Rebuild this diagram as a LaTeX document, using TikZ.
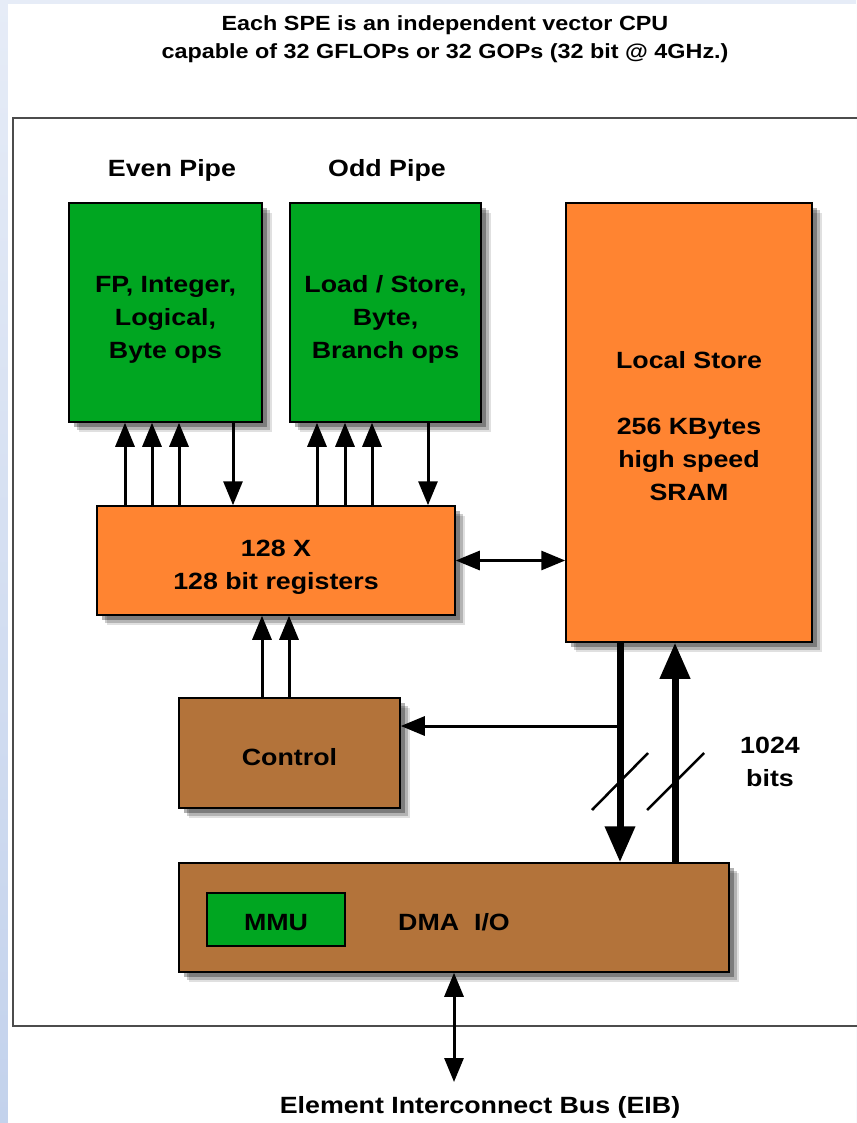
\documentclass[tikz,border=0pt]{standalone}
\usepackage{fontspec}
\setmainfont[FakeStretch=1.14]{Liberation Sans}
\usepackage{tikz}
\usetikzlibrary{arrows.meta,shadows}
\definecolor{pipegreen}{HTML}{00A621}
\definecolor{storeorange}{HTML}{FF8431}
\definecolor{ctrlbrown}{HTML}{B3733A}
\definecolor{edgeblue}{HTML}{C3D2EC}
\definecolor{edgeblue2}{HTML}{E6ECF7}
\newcommand{\topgap}[1][30pt]{\rule{0pt}{#1}}

\begin{document}
\begin{tikzpicture}[x=1pt,y=-1pt,
  unit/.style={
    rectangle, draw=black, line width=1.5pt, align=center, inner sep=0pt,
    font=\fontsize{23.5}{33}\bfseries\selectfont,
    drop shadow={shadow xshift=10pt, shadow yshift=-10pt, opacity=0.12, fill=black},
    drop shadow={shadow xshift=7.5pt, shadow yshift=-7.5pt, opacity=0.2, fill=black},
    drop shadow={shadow xshift=5pt, shadow yshift=-5pt, opacity=0.3, fill=black}
  },
  pipe/.style={unit, fill=pipegreen},
  store/.style={unit, fill=storeorange},
  ctrl/.style={unit, fill=ctrlbrown},
  mmubox/.style={
    rectangle, draw=black, line width=1.5pt, fill=pipegreen, inner sep=0pt,
    font=\fontsize{23.5}{33}\bfseries\selectfont
  },
  heading/.style={font=\fontsize{23.5}{33}\bfseries\selectfont, align=center},
  arr/.style={-{Triangle[length=24pt,width=19pt]}, line width=3pt},
  dblarr/.style={{Triangle[length=24pt,width=19pt]}-{Triangle[length=24pt,width=19pt]}, line width=3pt},
  busarr/.style={-{Triangle[length=36pt,width=29pt]}, line width=7pt},
  slash/.style={line width=2.5pt}
]
% page background
\shade[top color=edgeblue2, bottom color=edgeblue] (0,0) rectangle (856,1123);
\fill[white] (8,4) rectangle (856,1123);
\useasboundingbox (0,0) rectangle (856,1123);

\node[heading, font=\fontsize{20.5}{28}\bfseries\selectfont] (title) at (445,39)
  {Each SPE is an independent vector CPU\\capable of 32 GFLOPs or 32 GOPs (32 bit @ 4GHz.)};

% SPE frame
\draw[black!70, line width=2pt] (860,118) -- (13,118) -- (13,1026) -- (860,1026);

\node[heading] (evenlbl) at (172,170) {Even Pipe};
\node[heading] (oddlbl) at (387,170) {Odd Pipe};

\node[pipe, minimum width=193pt, minimum height=219pt] (evenpipe) at (165.5,312.5)
  {\topgap FP, Integer,\\Logical,\\Byte ops};
\node[pipe, minimum width=191pt, minimum height=219pt] (oddpipe) at (385.5,312.5)
  {\topgap Load / Store,\\Byte,\\Branch ops};

\node[store, minimum width=246pt, minimum height=439pt] (localstore) at (689,422.5)
  {\topgap[25pt]Local Store\\[33pt]256 KBytes\\high speed\\SRAM};

\node[store, minimum width=358pt, minimum height=109pt] (regs) at (276,560.5)
  {\topgap 128 X\\128 bit registers};

\node[ctrl, minimum width=221pt, minimum height=110pt] (control) at (289.5,753)
  {\topgap[26pt]Control};

\node[ctrl, minimum width=550pt, minimum height=109pt] (dma) at (454,917.5)
  {\topgap[26pt]DMA\ \ I/O};
\node[mmubox, minimum width=138pt, minimum height=53pt] (mmu) at (276,919.5)
  {\topgap[23pt]MMU};

\node[heading] (bits) at (770,762) {1024\\bits};
\node[heading] (eib) at (480,1107) {Element Interconnect Bus (EIB)};

% register file <-> pipes
\foreach \xa in {125,152,179,317,345,372}
  \draw[arr] (regs.north -| \xa,0) -- (evenpipe.south -| \xa,0);
\foreach \xa in {233,428}
  \draw[arr] (evenpipe.south -| \xa,0) -- (regs.north -| \xa,0);

\draw[dblarr] (regs.east) -- (regs.east -| localstore.west);

\foreach \xa in {262,289}
  \draw[arr] (control.north -| \xa,0) -- (regs.south -| \xa,0);

% 1024 bit bus
\draw[busarr] (localstore.south -| 620,0) -- (dma.north -| 620,0);
\draw[busarr] (dma.north -| 675,0) -- (localstore.south -| 675,0);
\coordinate (tap) at (620,726);
\draw[arr] (tap) -- (tap -| control.east);
\draw[slash] (592,810) -- (648,753);
\draw[slash] (647,810) -- (704,753);

\draw[dblarr] (dma.south) -- (dma.south |- 0,1082);
\end{tikzpicture}
\end{document}
